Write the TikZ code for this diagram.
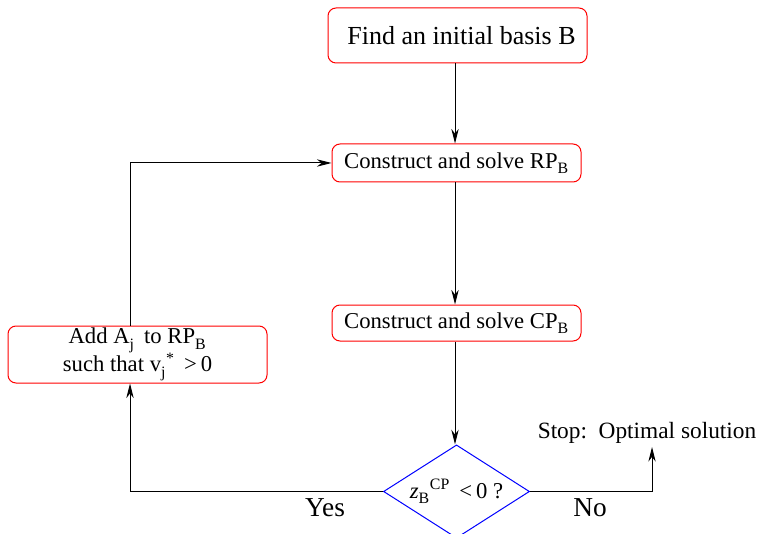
\documentclass[tikz,border=0pt]{standalone}
\usepackage{fontspec}
\setmainfont{Liberation Serif}
\usetikzlibrary{arrows.meta,shapes.geometric}
\newcommand{\sbs}[1]{\raisebox{-1.5pt}{\textsubscript{#1}}}
\begin{document}
\begin{tikzpicture}[x=0.75pt,y=-0.75pt,
    line width=0.75pt,
    >={Stealth[length=11pt,width=5.5pt]},
    stepbox/.style={draw=red,rounded corners=6pt,inner sep=0pt,align=center,
      font=\fontsize{17}{21}\selectfont},
    test/.style={draw=blue,diamond,inner sep=0pt,minimum width=109.5pt,minimum height=62pt,
      text height=0pt,text depth=0pt,font=\fontsize{17}{21}\selectfont}]
  \useasboundingbox (0,0) rectangle (759,534);
  % boxes
  \node[stepbox,minimum width=194.25pt,minimum height=41.25pt,font=\fontsize{19.5}{23}\selectfont]
    (find) at (457.5,35.5) {\hspace{6pt}Find an initial basis B};
  \node[stepbox,minimum width=186.75pt,minimum height=28.5pt] (rp) at (456.5,163) {Construct and solve RP\sbs{B}};
  \node[stepbox,minimum width=186.75pt,minimum height=27pt] (cp) at (456.5,323) {Construct and solve CP\sbs{B}};
  \node[stepbox,minimum width=194.25pt,minimum height=42.75pt,font=\fontsize{17}{21}\selectfont]
    (add) at (137.5,354.5) {Add A\sbs{j} \,to RP\sbs{B}\\such that v\sbs{j}\textsuperscript{*} \,>\,0};
  \node[test] (zb) at (456.5,491.5) {\raisebox{-5pt}{\textit{z}\sbs{B}\textsuperscript{CP} \,<\,0 ?}};
  % stop
  \node[font=\fontsize{17.5}{21}\selectfont] (stop) at (647,433) {Stop:\ \ Optimal solution};
  \coordinate (s) at (652,447);
  % links
  \draw[->] (find.south -| 455,0) -- (rp.north -| 455,0);
  \draw[->] (rp.south -| 455,0) -- (cp.north -| 455,0);
  \draw[->] (cp.south -| 455,0) -- (zb.north -| 455,0);
  \draw[->] (zb.west) -| (add.south -| 130,0);
  \draw[->] (add.north -| 130,0) |- (rp.west);
  \draw[->] (zb.east) -| (s);
  % answers
  \node[font=\fontsize{20.5}{24}\selectfont] (yes) at (325,508) {Yes};
  \node[font=\fontsize{20.5}{24}\selectfont] (no) at (590,508) {No};
\end{tikzpicture}
\end{document}
